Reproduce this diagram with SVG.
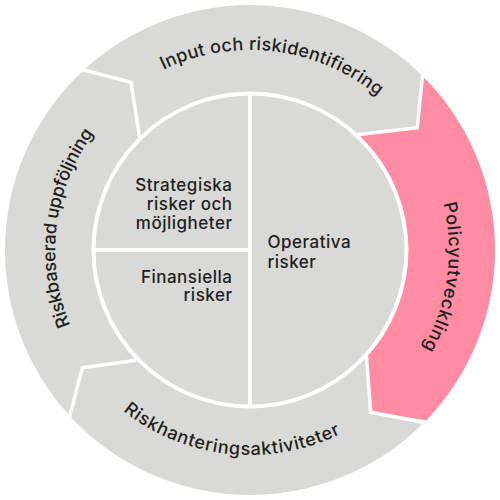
<svg xmlns="http://www.w3.org/2000/svg" width="500" height="500" viewBox="0 0 500 500">
<style>
.seg{fill:#d9d9d7}
.pink{fill:#ff8ca2}
.div{fill:none;stroke:#fff;stroke-width:3.5;stroke-linejoin:miter}
.in{fill:none;stroke:#fff;stroke-width:4}
.ring{font-family:Inter,"Noto Sans",sans-serif;font-size:18px;font-weight:500;fill:#231f20}
.lbl{font-family:Inter,"Noto Sans",sans-serif;font-size:17px;font-weight:500;fill:#231f20;letter-spacing:0.5px}
</style>
<defs>
<path id="pTop" d="M54.4,208.4 A200,200 0 0 1 449.9,257"/>
<path id="pRight" d="M294.8,56.1 A199,199 0 0 1 239.6,448.7"/>
<path id="pLeft" d="M209.5,440.7 A195,195 0 0 1 256.8,55.1"/>
<path id="pBottom" d="M45,246.4 A205,205 0 0 0 451.2,289.1"/>
</defs>
<rect width="500" height="500" fill="#fff"/>
<g id="ring">
<circle class="seg" cx="250" cy="250" r="245"/>
<path id="policy-seg" class="pink" d="M421.7,75.2 A245,245 0 0 1 426.5,419.9 L370.7,412.3 L366.4,355.7 A157.2,157.2 0 0 0 357,134.8 L417.3,127.7 Z"/>
</g>
<g id="connectors">
<polyline class="div" points="78,68.5 131,82.3 139.5,137"/>
<polyline class="div" points="423,71 417.3,127.7 357,134.8"/>
<polyline class="div" points="430,423.5 370.7,412.3 366.4,355.7"/>
<polyline class="div" points="68,423 82.3,367.7 136,360.3"/>
</g>
<g id="inner">
<circle class="in" cx="250" cy="250" r="156.5"/>
<line class="in" x1="250" y1="92" x2="250" y2="408"/>
<line class="in" x1="92" y1="250" x2="250" y2="250"/>
</g>
<g id="node-input"><text class="ring"><textPath href="#pTop" startOffset="50%" text-anchor="middle" textLength="228" lengthAdjust="spacing">Input och riskidentifiering</textPath></text></g>
<g id="node-policy"><text class="ring"><textPath href="#pRight" startOffset="50%" text-anchor="middle" textLength="150" lengthAdjust="spacing">Policyutveckling</textPath></text></g>
<g id="node-riskhantering"><text class="ring"><textPath href="#pBottom" startOffset="50%" text-anchor="middle" textLength="231" lengthAdjust="spacing">Riskhanteringsaktiviteter</textPath></text></g>
<g id="node-uppfoljning"><text class="ring"><textPath href="#pLeft" startOffset="50%" text-anchor="middle" textLength="202" lengthAdjust="spacing">Riskbaserad uppföljning</textPath></text></g>
<g id="node-strategiska"><text class="lbl" text-anchor="end"><tspan x="232.5" y="191">Strategiska</tspan><tspan x="232.5" y="210">risker och</tspan><tspan x="232.5" y="229">möjligheter</tspan></text></g>
<g id="node-finansiella"><text class="lbl" text-anchor="end"><tspan x="232.5" y="282.5">Finansiella</tspan><tspan x="232.5" y="301">risker</tspan></text></g>
<g id="node-operativa"><text class="lbl"><tspan x="267.5" y="247.5">Operativa</tspan><tspan x="267.5" y="268">risker</tspan></text></g>
</svg>
